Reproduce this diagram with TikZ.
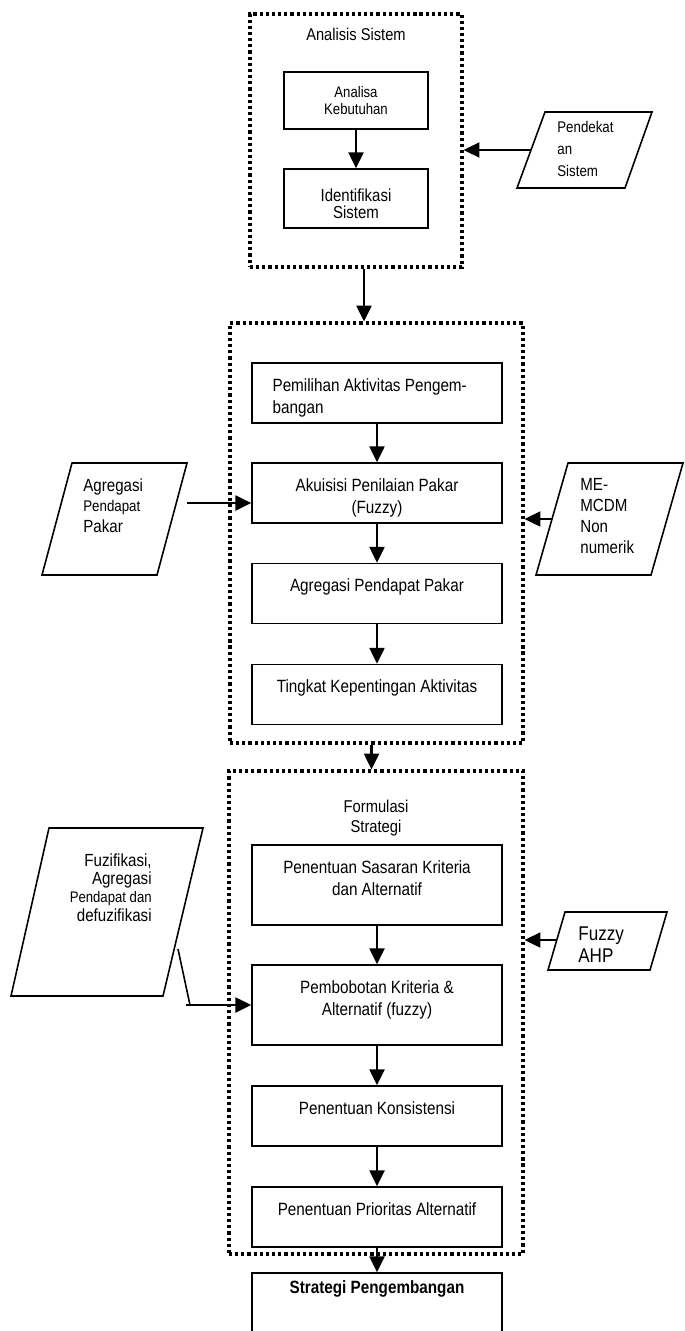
\documentclass[tikz,border=0pt]{standalone}
\usepackage{fontspec}
\setmainfont{Liberation Sans}[FakeStretch=0.86]
\usetikzlibrary{arrows.meta,positioning}

\newcommand{\fs}[2]{\fontsize{#1}{#2}\selectfont}
\lineskiplimit=-10pt
\lineskip=0pt

\tikzset{
    phase/.style={draw, line width=1.8pt, dash pattern=on 1.8pt off 1.7pt, inner sep=0pt},
    inbox/.style={draw, line width=0.9pt},
    stepbox/.style={inbox, minimum width=5cm, minimum height=1.2cm, inner sep=0pt},
    steptext/.style={inner sep=0pt, align=center, font=\fs{10.1}{12.8}},
    flow/.style={line width=1.3pt, -{Triangle[length=9pt,width=8.5pt]}},
}

\begin{document}
\begin{tikzpicture}[x=0.02cm, y=-0.02cm]
    \useasboundingbox (0,0) rectangle (684,1331);
    \clip (0,0) rectangle (684,1331);

    % Analisis sistem
    \node[phase, minimum width=4.24cm, minimum height=5.06cm] (analisis) at (356,140.5) {};
    \node[inner sep=0pt, font=\fs{9.7}{11}, below=0.3cm of analisis.north] (analisis-t) {Analisis Sistem};
    \node[inbox, minimum width=2.88cm, minimum height=1.14cm, align=center, font=\fs{8.7}{9.3}] (kebutuhan) at (356,100.5) {Analisa\\Kebutuhan};
    \node[inbox, minimum width=2.88cm, minimum height=1.18cm] (identifikasi) at (356,198.5) {};
    \node[inner sep=0pt, align=center, font=\fs{9.9}{9.8}, below=0.4cm of identifikasi.north] (identifikasi-t) {Identifikasi\\Sistem};
    \draw[flow] (kebutuhan) -- (identifikasi);

    % Pendekatan sistem
    \draw[inbox] (545,112) -- (652,112) -- (625,188) -- (517,188) -- cycle;
    \node[inner sep=0pt, anchor=west, align=left, font=\fs{8.8}{12.3}] (pendekatan) at (557,149) {Pendekat\\an\\Sistem};
    \coordinate (pendekatan-in) at (531,150);
    \draw[flow] (pendekatan-in) -- (pendekatan-in -| analisis.east);

    % Penilaian aktivitas
    \node[phase, minimum width=5.86cm, minimum height=8.4cm] (penilaian) at (376.5,533) {};
    \draw[flow] ([xshift=0.16cm]analisis.south) -- ([xshift=0.16cm]analisis.south |- penilaian.north);

    \node[stepbox] (pemilihan) at (377,393) {};
    \node[steptext, align=left, below right=0.32cm and 0.42cm of pemilihan.north west] (pemilihan-t) {Pemilihan Aktivitas Pengem-\\bangan};
    \node[stepbox] (akuisisi) at (377,493) {};
    \node[steptext, below=0.32cm of akuisisi.north] (akuisisi-t) {Akuisisi Penilaian Pakar\\(Fuzzy)};
    \node[stepbox] (agregasi) at (377,593.5) {};
    \node[steptext, below=0.32cm of agregasi.north] (agregasi-t) {Agregasi Pendapat Pakar};
    \node[stepbox] (tingkat) at (377,694.5) {};
    \node[steptext, below=0.32cm of tingkat.north] (tingkat-t) {Tingkat Kepentingan Aktivitas};

    \foreach \a/\b in {pemilihan/akuisisi, agregasi/tingkat, akuisisi/agregasi} {
        \draw[flow] (\a) -- (\b);
    }

    % Agregasi pendapat pakar (kiri)
    \draw[inbox] (72,463) -- (187,463) -- (157,575) -- (42,575) -- cycle;
    \node[inner sep=0pt, anchor=north west, align=left, font=\fs{10}{11.8}] (pakar) at (83,478) {Agregasi\\\fs{8.8}{11.8}Pendapat\\\fs{10}{11.8}Pakar};
    \coordinate (pakar-out) at (187,503);
    \draw[flow] (pakar-out) -- (pakar-out -| akuisisi.west);

    % ME-MCDM (kanan)
    \draw[inbox] (568,463) -- (683,463) -- (651,575) -- (536,575) -- cycle;
    \node[inner sep=0pt, anchor=north west, align=left, font=\fs{10}{12}] (mcdm) at (580,478) {ME-\\MCDM\\Non\\numerik};
    \coordinate (mcdm-out) at (552,519);
    \draw[flow] (mcdm-out) -- (mcdm-out -| penilaian.east);

    % Formulasi strategi
    \node[phase, minimum width=5.88cm, minimum height=9.66cm] (formulasi) at (376,1012.5) {};
    \draw[flow] ([xshift=-0.1cm]penilaian.south) -- ([xshift=-0.1cm]penilaian.south |- formulasi.north);
    \node[inner sep=0pt, align=center, font=\fs{9.75}{11.3}, below=0.6cm of formulasi.north] (formulasi-t) {Formulasi\\Strategi};

    \node[stepbox, minimum height=1.6cm] (sasaran) at (377,885) {};
    \node[steptext, below=0.32cm of sasaran.north] (sasaran-t) {Penentuan Sasaran Kriteria\\dan Alternatif};
    \node[stepbox, minimum height=1.6cm] (pembobotan) at (377,1005) {};
    \node[steptext, below=0.32cm of pembobotan.north] (pembobotan-t) {Pembobotan Kriteria \&\\Alternatif (fuzzy)};
    \node[stepbox] (konsistensi) at (377,1116) {};
    \node[steptext, below=0.32cm of konsistensi.north] (konsistensi-t) {Penentuan Konsistensi};
    \node[stepbox] (prioritas) at (377,1217) {};
    \node[steptext, below=0.32cm of prioritas.north] (prioritas-t) {Penentuan Prioritas Alternatif};
    \node[stepbox, minimum height=1.6cm] (strategi) at (377,1313) {};
    \node[steptext, font=\fs{10.1}{12}\bfseries, below=0.17cm of strategi.north] (strategi-t) {Strategi Pengembangan};

    \foreach \a/\b in {sasaran/pembobotan, pembobotan/konsistensi, konsistensi/prioritas, prioritas/strategi} {
        \draw[flow] (\a) -- (\b);
    }

    % Fuzifikasi (kiri)
    \draw[inbox] (49,828) -- (203,828) -- (163,996) -- (11,996) -- cycle;
    \node[inner sep=0pt, anchor=north east, align=right, font=\fs{10}{10.5}] (fuzifikasi) at (152,853) {Fuzifikasi,\\Agregasi\\\fs{8.7}{10.5}Pendapat dan\\\fs{10}{10.5}defuzifikasi};
    \coordinate (fuzifikasi-out) at (178,949);
    \coordinate (fuzifikasi-bend) at (190,1005);
    \draw[inbox] (fuzifikasi-out) -- (fuzifikasi-bend);
    \draw[flow] ([xshift=-0.08cm]fuzifikasi-bend) -- (fuzifikasi-bend -| pembobotan.west);

    % Fuzzy AHP (kanan)
    \draw[inbox] (565,912) -- (667,912) -- (650,970) -- (548,970) -- cycle;
    \node[inner sep=0pt, anchor=north west, align=left, font=\fs{11.3}{13}] (ahp) at (578,926) {Fuzzy\\AHP};
    \coordinate (ahp-out) at (557,940);
    \draw[flow] (ahp-out) -- (ahp-out -| formulasi.east);
\end{tikzpicture}
\end{document}
